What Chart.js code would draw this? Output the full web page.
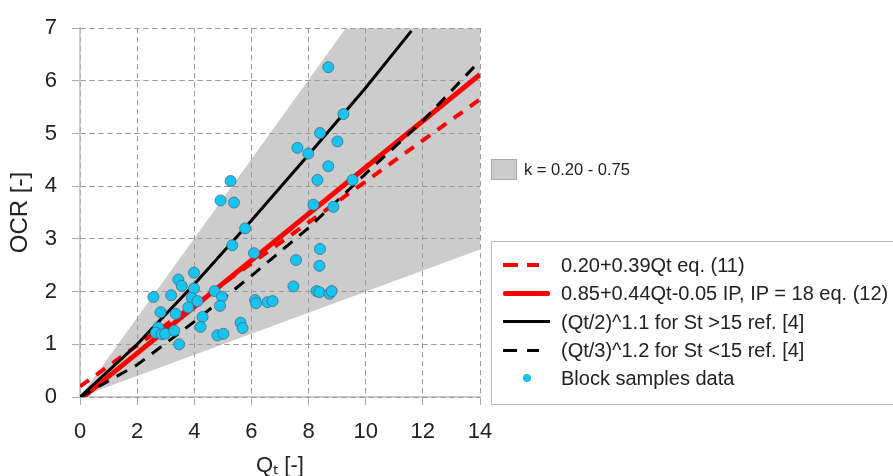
<!DOCTYPE html>
<html>
<head>
<meta charset="utf-8">
<script src="https://cdn.jsdelivr.net/npm/chart.js@4"></script>
<style>
  body { margin: 0; background: #fff; overflow: hidden; font-family: "Liberation Sans", Arial, sans-serif; }
  #wrap { position: relative; width: 893px; height: 476px; }
  #chart { position: absolute; left: 0; top: 0; }
  .lg { position: absolute; color: #222; white-space: nowrap; }
  .seg { position: absolute; }
</style>
</head>
<body>
<div id="wrap">
  <canvas id="chart" width="893" height="476"></canvas>

  <!-- band legend -->
  <div class="seg" style="left:491px;top:159px;width:24px;height:19px;background:#cccccc;border:1px solid #aaa;"></div>
  <div class="lg" style="left:524px;top:159px;font-size:16.5px;line-height:20px;">k = 0.20 - 0.75</div>

  <!-- lines legend -->
  <div class="seg" style="left:491px;top:241px;width:420px;height:162px;border:1px solid #bbb;"></div>
  <div id="items"></div>
</div>

<script>
// band k = 0.20 - 0.75 (polygon corners)
var bandX = [0, 9.3, 14, 14, 0];
var bandY = [0, 7, 7, 2.8, 0];

// 0.20+0.39Qt eq. (11)
var redDashX = [0, 14];
var redDashY = [0.2, 5.65];

// 0.85+0.44Qt-0.05 IP, IP = 18 eq. (12)
var redSolidX = [0, 14];
var redSolidY = [-0.05, 6.12];

// (Qt/2)^1.1 for St >15
var blackSolidX = [0, 2, 4, 6, 8, 10, 11.6];
var blackSolidY = [0, 1.0, 2.14, 3.35, 4.6, 5.87, 6.95];

// (Qt/3)^1.2 for St <15
var blackDashX = [0, 2, 4, 6, 8, 10, 12, 13.8];
var blackDashY = [0, 0.61, 1.43, 2.3, 3.21, 4.24, 5.24, 6.27];

// block samples data
var sampleQt = [8.69, 9.22, 8.40, 7.61, 7.99, 9.01, 8.69, 8.31, 9.54, 8.17, 8.87, 8.40, 7.56, 8.38, 7.47,
  8.28, 8.38, 8.73, 8.81, 5.27, 4.92, 5.39, 5.78, 5.33, 6.09, 4.71, 4.97, 4.90, 6.13, 6.16, 6.56, 6.74,
  4.29, 4.22, 5.62, 5.69, 4.81, 5.02, 3.99, 3.44, 3.56, 2.57, 3.19, 3.99, 3.91, 4.11, 2.82, 3.35, 3.79,
  2.74, 2.65, 2.86, 2.98, 3.30, 3.47];
var sampleOCR = [6.26, 5.37, 5.01, 4.73, 4.62, 4.85, 4.38, 4.12, 4.12, 3.65, 3.61, 2.81, 2.60, 2.49, 2.10,
  2.01, 1.99, 1.96, 2.01, 4.10, 3.73, 3.69, 3.20, 2.88, 2.73, 2.01, 1.90, 1.73, 1.84, 1.78, 1.80, 1.82,
  1.52, 1.33, 1.41, 1.31, 1.17, 1.20, 2.36, 2.23, 2.11, 1.90, 1.93, 2.06, 1.88, 1.82, 1.61, 1.58, 1.70,
  1.32, 1.22, 1.19, 1.20, 1.26, 1.00];

var xTicks = [0, 2, 4, 6, 8, 10, 12, 14];
var yTicks = [0, 1, 2, 3, 4, 5, 6, 7];

var legendLabels = [
  '0.20+0.39Qt eq. (11)',
  '0.85+0.44Qt-0.05 IP, IP = 18 eq. (12)',
  '(Qt/2)^1.1 for St >15 ref. [4]',
  '(Qt/3)^1.2 for St <15 ref. [4]',
  'Block samples data'
];

function pts(xs, ys) {
  return xs.map(function(x, i) { return { x: x, y: ys[i] }; });
}

var font = '"Liberation Sans", Arial, sans-serif';

// redraw the grid over the gray band, but under the lines
var gridOverBand = {
  id: 'gridOverBand',
  afterDatasetDraw: function(chart, args) {
    if (args.index !== 0) return;
    ['x', 'y'].forEach(function(k) {
      var s = chart.scales[k];
      s.drawGrid(chart.chartArea);
      if (s.drawBorder) s.drawBorder();
    });
  }
};

var ctx = document.getElementById('chart').getContext('2d');
new Chart(ctx, {
  type: 'scatter',
  data: {
    datasets: [
      {
        label: 'k = 0.20 - 0.75',
        data: pts(bandX, bandY),
        showLine: true,
        fill: 'shape',
        backgroundColor: '#cccccc',
        borderWidth: 0,
        pointRadius: 0,
        order: 5
      },
      {
        label: legendLabels[0],
        data: pts(redDashX, redDashY),
        showLine: true,
        borderColor: '#ff0000',
        borderWidth: 4,
        borderDash: [11, 9],
        pointRadius: 0,
        order: 4
      },
      {
        label: legendLabels[1],
        data: pts(redSolidX, redSolidY),
        showLine: true,
        borderColor: '#ff0000',
        borderWidth: 5,
        pointRadius: 0,
        order: 3
      },
      {
        label: legendLabels[2],
        data: pts(blackSolidX, blackSolidY),
        showLine: true,
        borderColor: '#000000',
        borderWidth: 3,
        pointRadius: 0,
        tension: 0,
        order: 2
      },
      {
        label: legendLabels[3],
        data: pts(blackDashX, blackDashY),
        showLine: true,
        borderColor: '#000000',
        borderWidth: 3,
        borderDash: [12, 9],
        pointRadius: 0,
        order: 1
      },
      {
        label: legendLabels[4],
        data: pts(sampleQt, sampleOCR),
        backgroundColor: '#19c3f0',
        borderColor: '#3f6f85',
        borderWidth: 0.8,
        pointRadius: 5.5,
        order: 0
      }
    ]
  },
  options: {
    responsive: false,
    animation: false,
    devicePixelRatio: 1,
    layout: { padding: { left: 0, right: 413, top: 27, bottom: 0 } },
    plugins: { legend: { display: false }, tooltip: { enabled: false } },
    scales: {
      x: {
        type: 'linear',
        min: 0, max: 14,
        afterBuildTicks: function(s) { s.ticks = xTicks.map(function(v) { return { value: v }; }); },
        afterFit: function(s) { s.height = 79; },
        grid: { color: '#9a9a9a', lineWidth: 1, tickLength: 8, tickColor: '#aaaaaa', tickBorderDash: [] },
        border: { color: '#c8c8c8', width: 1.5, dash: [5, 4] },
        ticks: { color: '#222', font: { family: font, size: 22 }, padding: 14, maxRotation: 0 },
        title: { display: true, text: 'Qₜ [-]', color: '#222', font: { family: font, size: 22 }, padding: { top: 0, bottom: -3 } }
      },
      y: {
        type: 'linear',
        min: 0, max: 7,
        afterBuildTicks: function(s) { s.ticks = yTicks.map(function(v) { return { value: v }; }); },
        afterFit: function(s) { s.width = 80; },
        grid: { color: '#9a9a9a', lineWidth: 1, tickLength: 8, tickColor: '#aaaaaa', tickBorderDash: [] },
        border: { color: '#c8c8c8', width: 1.5, dash: [5, 4] },
        ticks: { color: '#222', font: { family: font, size: 22 }, padding: 15 },
        title: { display: true, text: 'OCR [-]', color: '#222', font: { family: font, size: 24 }, padding: { top: 6, bottom: 0 } }
      }
    }
  },
  plugins: [gridOverBand]
});

// html legend for the lines and samples
var rowsY = [265, 293.3, 321.7, 350, 378.3];
var samples = [
  '<div class="seg" style="left:503px;top:-2px;width:15px;height:4px;background:#f00"></div>' +
  '<div class="seg" style="left:527px;top:-2px;width:12px;height:4px;background:#f00"></div>',
  '<div class="seg" style="left:503px;top:-2.5px;width:47px;height:5px;background:#f00;border-radius:2px"></div>',
  '<div class="seg" style="left:503px;top:-1.5px;width:47px;height:3px;background:#000"></div>',
  '<div class="seg" style="left:503px;top:-1.5px;width:14px;height:3px;background:#000"></div>' +
  '<div class="seg" style="left:527px;top:-1.5px;width:12px;height:3px;background:#000"></div>',
  '<div class="seg" style="left:523px;top:-4px;width:8px;height:8px;border-radius:50%;background:#19c3f0"></div>'
];
var html = '';
legendLabels.forEach(function(t, i) {
  html += '<div class="seg" style="left:0;top:' + rowsY[i] + 'px;">' + samples[i] + '</div>';
  html += '<div class="lg" style="left:561px;top:' + (rowsY[i] - 12) + 'px;font-size:20px;line-height:24px;">' + t + '</div>';
});
document.getElementById('items').innerHTML = html;
</script>
</body>
</html>
